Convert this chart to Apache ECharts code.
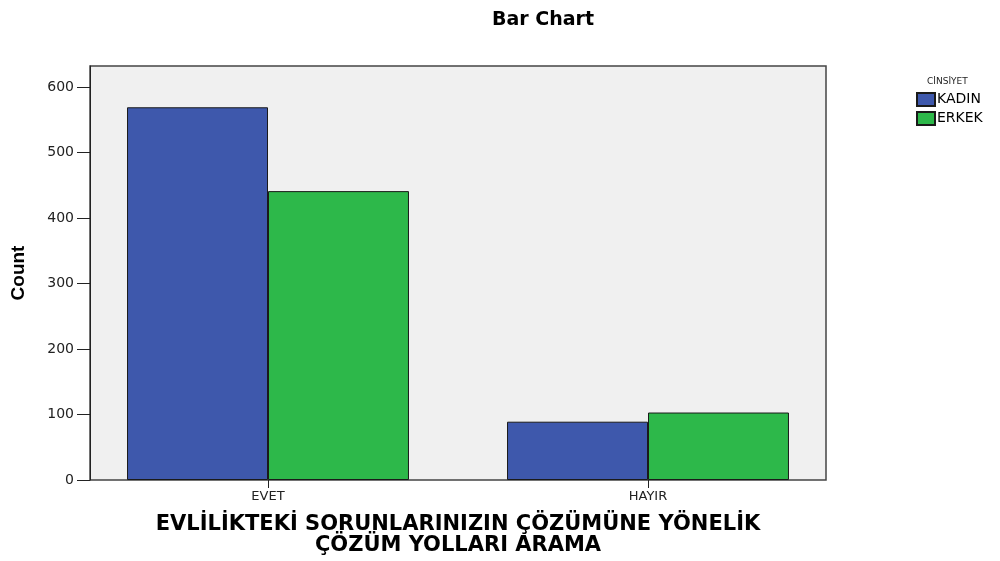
<!DOCTYPE html>
<html>
<head>
<meta charset="utf-8">
<script src="https://cdn.jsdelivr.net/npm/echarts@6/dist/echarts.min.js"></script>
<style>
  html, body { margin: 0; padding: 0; background: #fff; }
  #chart { width: 1000px; height: 561px; }
</style>
</head>
<body>
<div id="chart"></div>
<script>
// veriler
var categories = ['EVET', 'HAYIR'];
var seriesNames = ['KADIN', 'ERKEK'];
var kadin = [569, 89];
var erkek = [441, 103];
var yTicks = [0, 100, 200, 300, 400, 500, 600];

var chart = echarts.init(document.getElementById('chart'));

var font = '"DejaVu Sans", "Liberation Sans", Arial, sans-serif';

var option = {
  backgroundColor: '#ffffff',
  animation: false,
  color: ['#3e58ac', '#2db84a'],
  title: [{
    text: 'Bar Chart',
    left: 538,
    textAlign: 'center',
    top: 6,
    textStyle: { fontFamily: font, fontSize: 19, fontWeight: 'bold', color: '#000' }
  }, {
    text: 'CİNSİYET',
    left: 922,
    top: 72,
    textStyle: { fontFamily: font, fontSize: 9, fontWeight: 'normal', color: '#222' }
  }],
  legend: {
    orient: 'vertical',
    left: 911,
    top: 87,
    itemWidth: 18,
    itemHeight: 13,
    itemGap: 4,
    icon: 'rect',
    textStyle: { fontFamily: font, fontSize: 14, color: '#000', padding: [0, 0, 0, -3] },
    data: seriesNames
  },
  grid: [
    // çizim alanı (bar yerleşimi)
    { left: 78, right: 162, top: 66, bottom: 81, show: false, outerBoundsMode: 'none', containLabel: false },
    // çerçeve + gri zemin
    { left: 90, right: 174, top: 66, bottom: 81, show: true, outerBoundsMode: 'none', containLabel: false,
      backgroundColor: '#f0f0f0', borderColor: '#444', borderWidth: 1.5, z: -1 }
  ],
  xAxis: [{
    gridIndex: 0,
    type: 'category',
    data: categories,
    axisLine: { show: false },
    axisTick: { show: true, alignWithLabel: true, length: 8, lineStyle: { color: '#222' } },
    axisLabel: { fontFamily: font, fontSize: 13, color: '#222', margin: 10 },
    name: 'EVLİLİKTEKİ SORUNLARINIZIN ÇÖZÜMÜNE YÖNELİK\nÇÖZÜM YOLLARI ARAMA',
    nameLocation: 'middle',
    nameGap: 34,
    nameTextStyle: { fontFamily: font, fontSize: 21, fontWeight: 'bold', color: '#000', lineHeight: 21, verticalAlign: 'top' }
  }, {
    gridIndex: 1, type: 'value', show: false
  }],
  yAxis: [{
    gridIndex: 0,
    type: 'value',
    min: 0,
    max: 632,
    interval: 100,
    offset: -12,
    axisLine: { show: true, lineStyle: { color: '#222' } },
    axisTick: { show: true, length: 13, lineStyle: { color: '#222' } },
    splitLine: { show: false },
    axisLabel: {
      fontFamily: font, fontSize: 14, color: '#222', margin: 16, showMaxLabel: false,
      formatter: function (v) { return yTicks.indexOf(v) >= 0 ? String(v) : ''; }
    },
    name: 'Count',
    nameLocation: 'middle',
    nameGap: 62,
    nameTextStyle: { fontFamily: '"Liberation Sans", Arial, sans-serif', fontSize: 19, fontWeight: 'bold', color: '#000' }
  }, {
    gridIndex: 1, type: 'value', show: false
  }],
  series: [{
    name: seriesNames[0],
    type: 'bar',
    xAxisIndex: 0,
    yAxisIndex: 0,
    data: kadin,
    barGap: '0%',
    barCategoryGap: '25.8%',
    itemStyle: { borderColor: '#1a1a1a', borderWidth: 1 }
  }, {
    name: seriesNames[1],
    type: 'bar',
    xAxisIndex: 0,
    yAxisIndex: 0,
    data: erkek,
    barGap: '0%',
    barCategoryGap: '25.8%',
    itemStyle: { borderColor: '#1a1a1a', borderWidth: 1 }
  }]
};

chart.setOption(option);
</script>
</body>
</html>
